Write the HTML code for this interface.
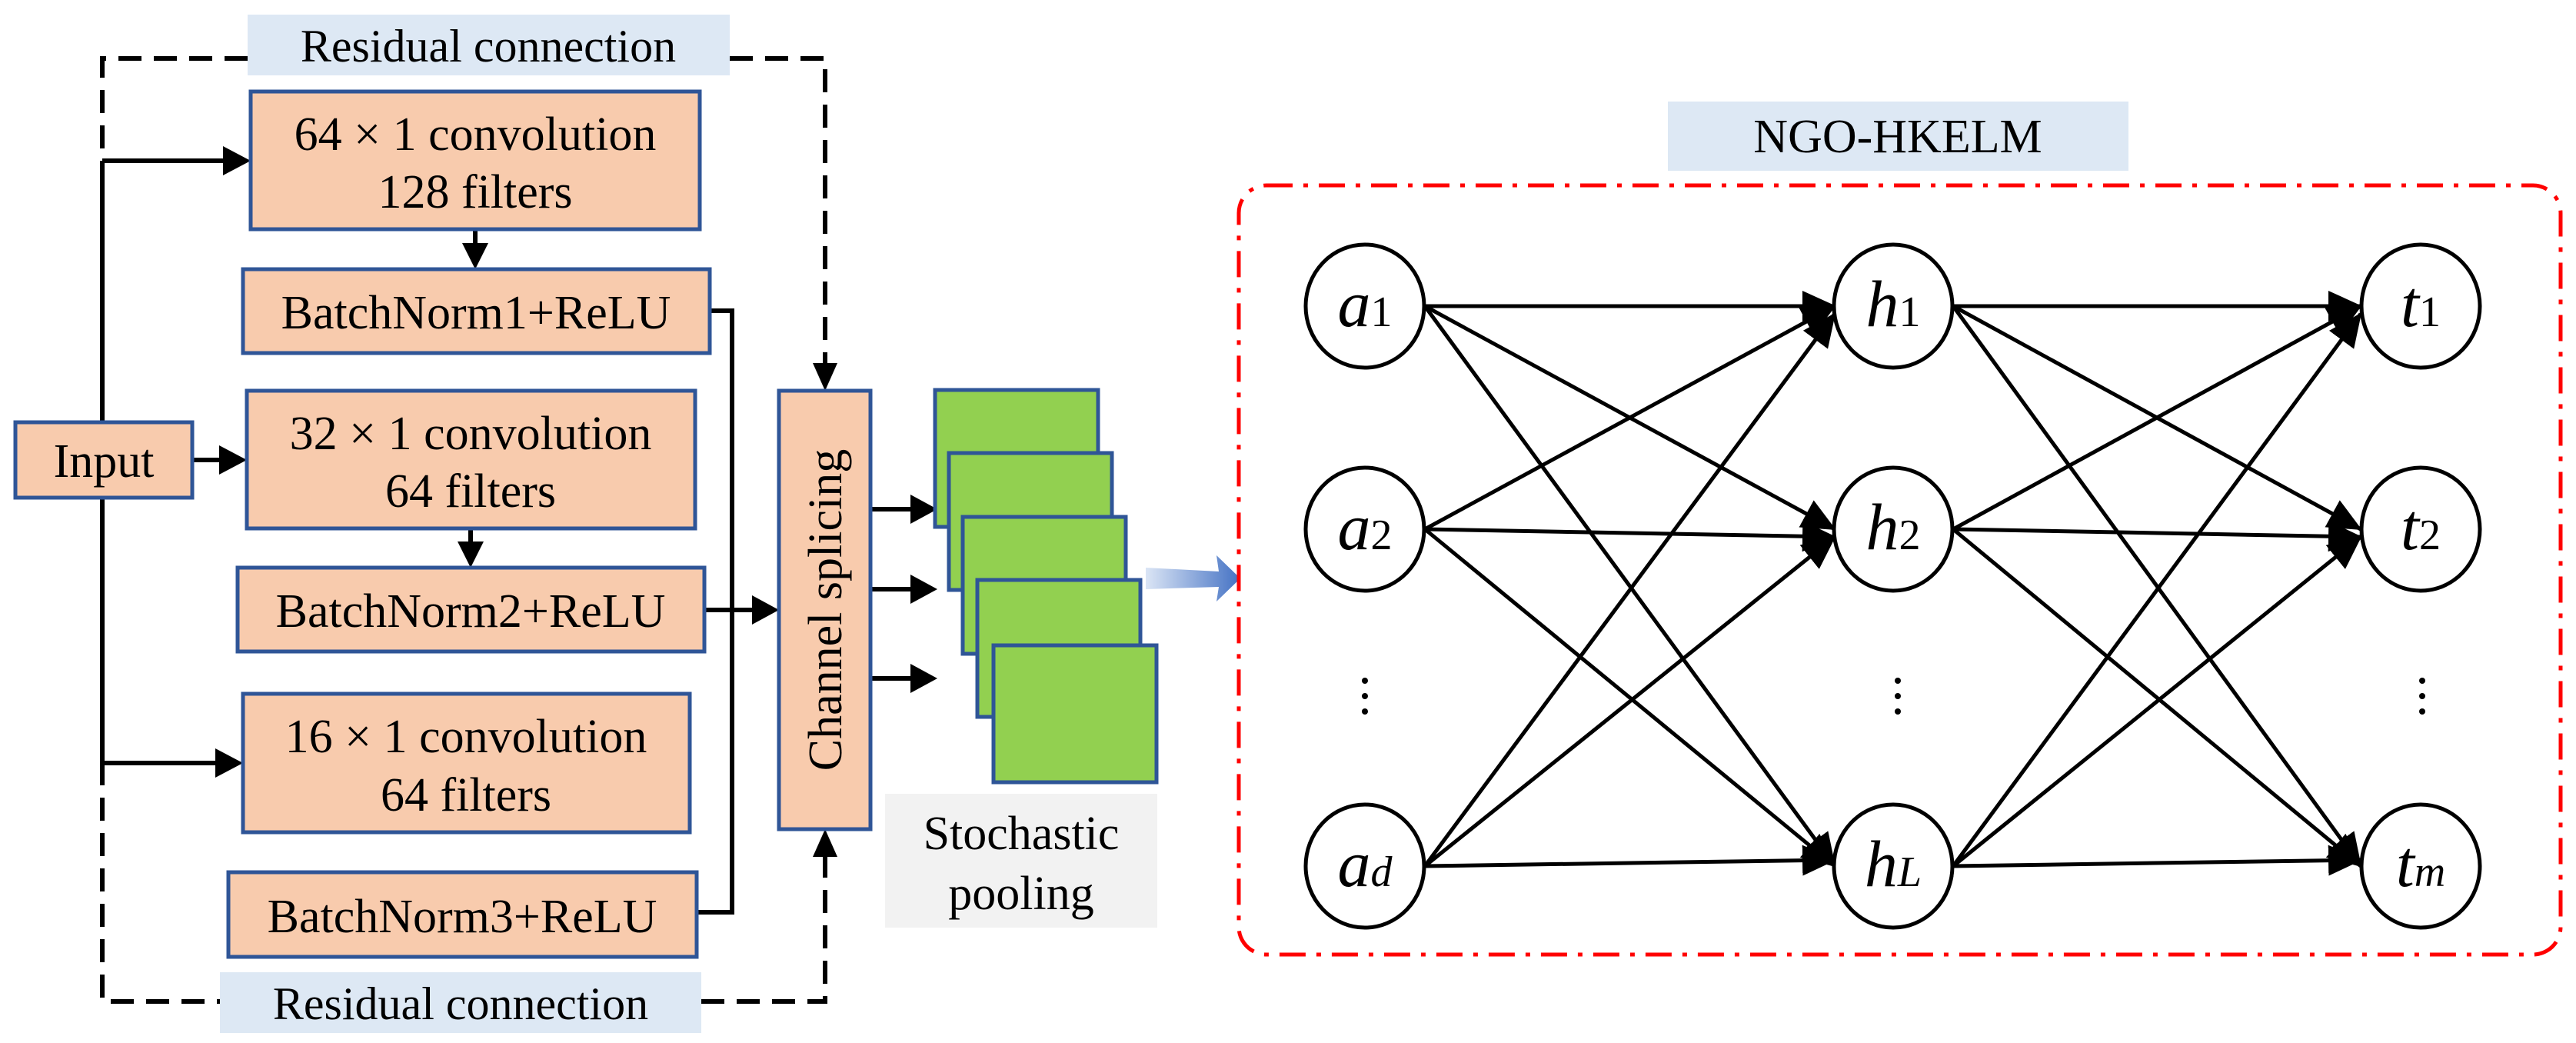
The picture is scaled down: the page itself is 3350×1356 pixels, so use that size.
<!DOCTYPE html>
<html><head><meta charset="utf-8"><style>
html,body{margin:0;padding:0;background:#fff}
svg{display:block}
text{font-family:"Liberation Serif","Times New Roman",serif;fill:#000}
</style></head><body>
<svg width="3350" height="1356" viewBox="0 0 3350 1356" xmlns="http://www.w3.org/2000/svg" font-family="Liberation Serif, serif">
<defs>
<linearGradient id="bg" x1="0" x2="1" y1="0" y2="0"><stop offset="0" stop-color="#dbe5f5"/><stop offset="1" stop-color="#4472c4"/></linearGradient>
<marker id="ah" markerUnits="userSpaceOnUse" markerWidth="44" markerHeight="40" refX="42" refY="20" orient="auto"><path d="M0,0 L44,20 L0,40 Z" fill="#000"/></marker>
</defs>
<rect x="322" y="19" width="627" height="79" fill="#dde8f4"/>
<rect x="286" y="1264" width="626" height="79" fill="#dde8f4"/>
<rect x="1151" y="1032" width="354" height="174" fill="#f2f2f2"/>
<rect x="2169" y="132" width="599" height="90" fill="#dde8f4"/>
<text x="635" y="80" font-size="60" text-anchor="middle">Residual connection</text>
<text x="599" y="1325" font-size="60" text-anchor="middle">Residual connection</text>
<text x="1328" y="1104" font-size="62" text-anchor="middle">Stochastic</text>
<text x="1328" y="1182" font-size="62" text-anchor="middle">pooling</text>
<text x="2468" y="198" font-size="62" text-anchor="middle">NGO-HKELM</text>
<g fill="none" stroke="#000" stroke-width="6" stroke-dasharray="30,16">
<path d="M322 76 H133 V1302 H286"/>
<path d="M949 76 H1073 V475"/>
<path d="M912 1302 H1073 V1110"/>
</g>
<polygon points="1057,472 1089,472 1073,508" fill="#000"/>
<polygon points="1057,1114 1089,1114 1073,1078" fill="#000"/>
<g fill="none" stroke="#000" stroke-width="6">
<path d="M133 209 V1012"/>
<path d="M133 209 H292"/>
<path d="M250 598 H287"/>
<path d="M133 992 H282"/>
<path d="M618 298 V318"/>
<path d="M612 687 V706"/>
<path d="M923 404 H952 V1186 H906"/>
<path d="M916 793 H980"/>
<path d="M1132 662 H1186"/>
<path d="M1132 766 H1186"/>
<path d="M1132 882 H1186"/>
</g>
<g fill="#000">
<polygon points="290,190 326,209 290,228"/>
<polygon points="285,579 321,598 285,617"/>
<polygon points="280,973 316,992 280,1011"/>
<polygon points="601,316 635,316 618,350"/>
<polygon points="595,704 629,704 612,738"/>
<polygon points="978,774 1013,793 978,812"/>
<polygon points="1184,643 1219,662 1184,681"/>
<polygon points="1184,747 1219,766 1184,785"/>
<polygon points="1184,863 1219,882 1184,901"/>
</g>
<g fill="#f8cbad" stroke="#2f5597" stroke-width="5">
<rect x="326" y="119" width="584" height="179"/>
<rect x="316" y="350" width="607" height="109"/>
<rect x="321" y="508" width="583" height="179"/>
<rect x="309" y="738" width="607" height="109"/>
<rect x="316" y="902" width="581" height="180"/>
<rect x="297" y="1134" width="609" height="110"/>
<rect x="20" y="549" width="230" height="98"/>
<rect x="1013" y="508" width="119" height="570"/>
</g>
<g font-size="62" text-anchor="middle">
<text x="618" y="195">64 × 1 convolution</text>
<text x="618" y="270">128 filters</text>
<text x="619" y="427">BatchNorm1+ReLU</text>
<text x="612" y="584">32 × 1 convolution</text>
<text x="612" y="659">64 filters</text>
<text x="612" y="815">BatchNorm2+ReLU</text>
<text x="606" y="978">16 × 1 convolution</text>
<text x="606" y="1054">64 filters</text>
<text x="601" y="1212">BatchNorm3+ReLU</text>
<text x="135" y="620">Input</text>
<text transform="translate(1094,793) rotate(-90)" x="0" y="0">Channel splicing</text>
</g>
<g fill="#92d050" stroke="#2f5597" stroke-width="5">
<rect x="1216" y="507" width="212" height="178"/>
<rect x="1234" y="589" width="212" height="178"/>
<rect x="1252" y="672" width="212" height="178"/>
<rect x="1271" y="754" width="212" height="178"/>
<rect x="1292" y="839" width="212" height="178"/>
</g>
<polygon points="1490,738 1585,743 1582,722 1613,752 1582,782 1585,763 1490,766" fill="url(#bg)"/>
<rect x="1611" y="241" width="1719" height="1000" rx="36" fill="none" stroke="#ff0000" stroke-width="5" stroke-dasharray="34,14,6,14"/>
<g stroke="#000" stroke-width="5" fill="none" marker-end="url(#ah)">
<line x1="1853" y1="398" x2="2386" y2="398"/>
<line x1="1853" y1="398" x2="2386" y2="688"/>
<line x1="1853" y1="398" x2="2386" y2="1126"/>
<line x1="1853" y1="688" x2="2386" y2="398"/>
<line x1="1853" y1="688" x2="2386" y2="698"/>
<line x1="1853" y1="688" x2="2386" y2="1126"/>
<line x1="1853" y1="1126" x2="2386" y2="408"/>
<line x1="1853" y1="1126" x2="2386" y2="698"/>
<line x1="1853" y1="1126" x2="2386" y2="1118"/>
<line x1="2540" y1="398" x2="3070" y2="398"/>
<line x1="2540" y1="398" x2="3070" y2="688"/>
<line x1="2540" y1="398" x2="3070" y2="1126"/>
<line x1="2540" y1="688" x2="3070" y2="398"/>
<line x1="2540" y1="688" x2="3070" y2="698"/>
<line x1="2540" y1="688" x2="3070" y2="1126"/>
<line x1="2540" y1="1126" x2="3070" y2="408"/>
<line x1="2540" y1="1126" x2="3070" y2="698"/>
<line x1="2540" y1="1126" x2="3070" y2="1118"/>
</g>
<g fill="#fff" stroke="#000" stroke-width="5">
<ellipse cx="1775" cy="398" rx="77" ry="80"/>
<ellipse cx="1775" cy="688" rx="77" ry="80"/>
<ellipse cx="1775" cy="1126" rx="77" ry="80"/>
<ellipse cx="2462" cy="398" rx="77" ry="80"/>
<ellipse cx="2462" cy="688" rx="77" ry="80"/>
<ellipse cx="2462" cy="1126" rx="77" ry="80"/>
<ellipse cx="3148" cy="398" rx="77" ry="80"/>
<ellipse cx="3148" cy="688" rx="77" ry="80"/>
<ellipse cx="3148" cy="1126" rx="77" ry="80"/>
</g>
<g fill="#000">
<circle cx="1775" cy="885" r="4"/><circle cx="1775" cy="905" r="4"/><circle cx="1775" cy="925" r="4"/>
<circle cx="2468" cy="885" r="4"/><circle cx="2468" cy="905" r="4"/><circle cx="2468" cy="925" r="4"/>
<circle cx="3150" cy="885" r="4"/><circle cx="3150" cy="905" r="4"/><circle cx="3150" cy="925" r="4"/>
</g>
<g font-size="86" text-anchor="middle">
<text x="1775" y="424"><tspan font-style="italic">a</tspan><tspan font-size="56">1</tspan></text>
<text x="1775" y="714"><tspan font-style="italic">a</tspan><tspan font-size="56">2</tspan></text>
<text x="1775" y="1152"><tspan font-style="italic">a</tspan><tspan font-size="56" font-style="italic">d</tspan></text>
<text x="2462" y="424"><tspan font-style="italic">h</tspan><tspan font-size="56">1</tspan></text>
<text x="2462" y="714"><tspan font-style="italic">h</tspan><tspan font-size="56">2</tspan></text>
<text x="2462" y="1152"><tspan font-style="italic">h</tspan><tspan font-size="56" font-style="italic">L</tspan></text>
<text x="3148" y="424"><tspan font-style="italic">t</tspan><tspan font-size="56">1</tspan></text>
<text x="3148" y="714"><tspan font-style="italic">t</tspan><tspan font-size="56">2</tspan></text>
<text x="3148" y="1152"><tspan font-style="italic">t</tspan><tspan font-size="56" font-style="italic">m</tspan></text>
</g>
</svg>
</body></html>
